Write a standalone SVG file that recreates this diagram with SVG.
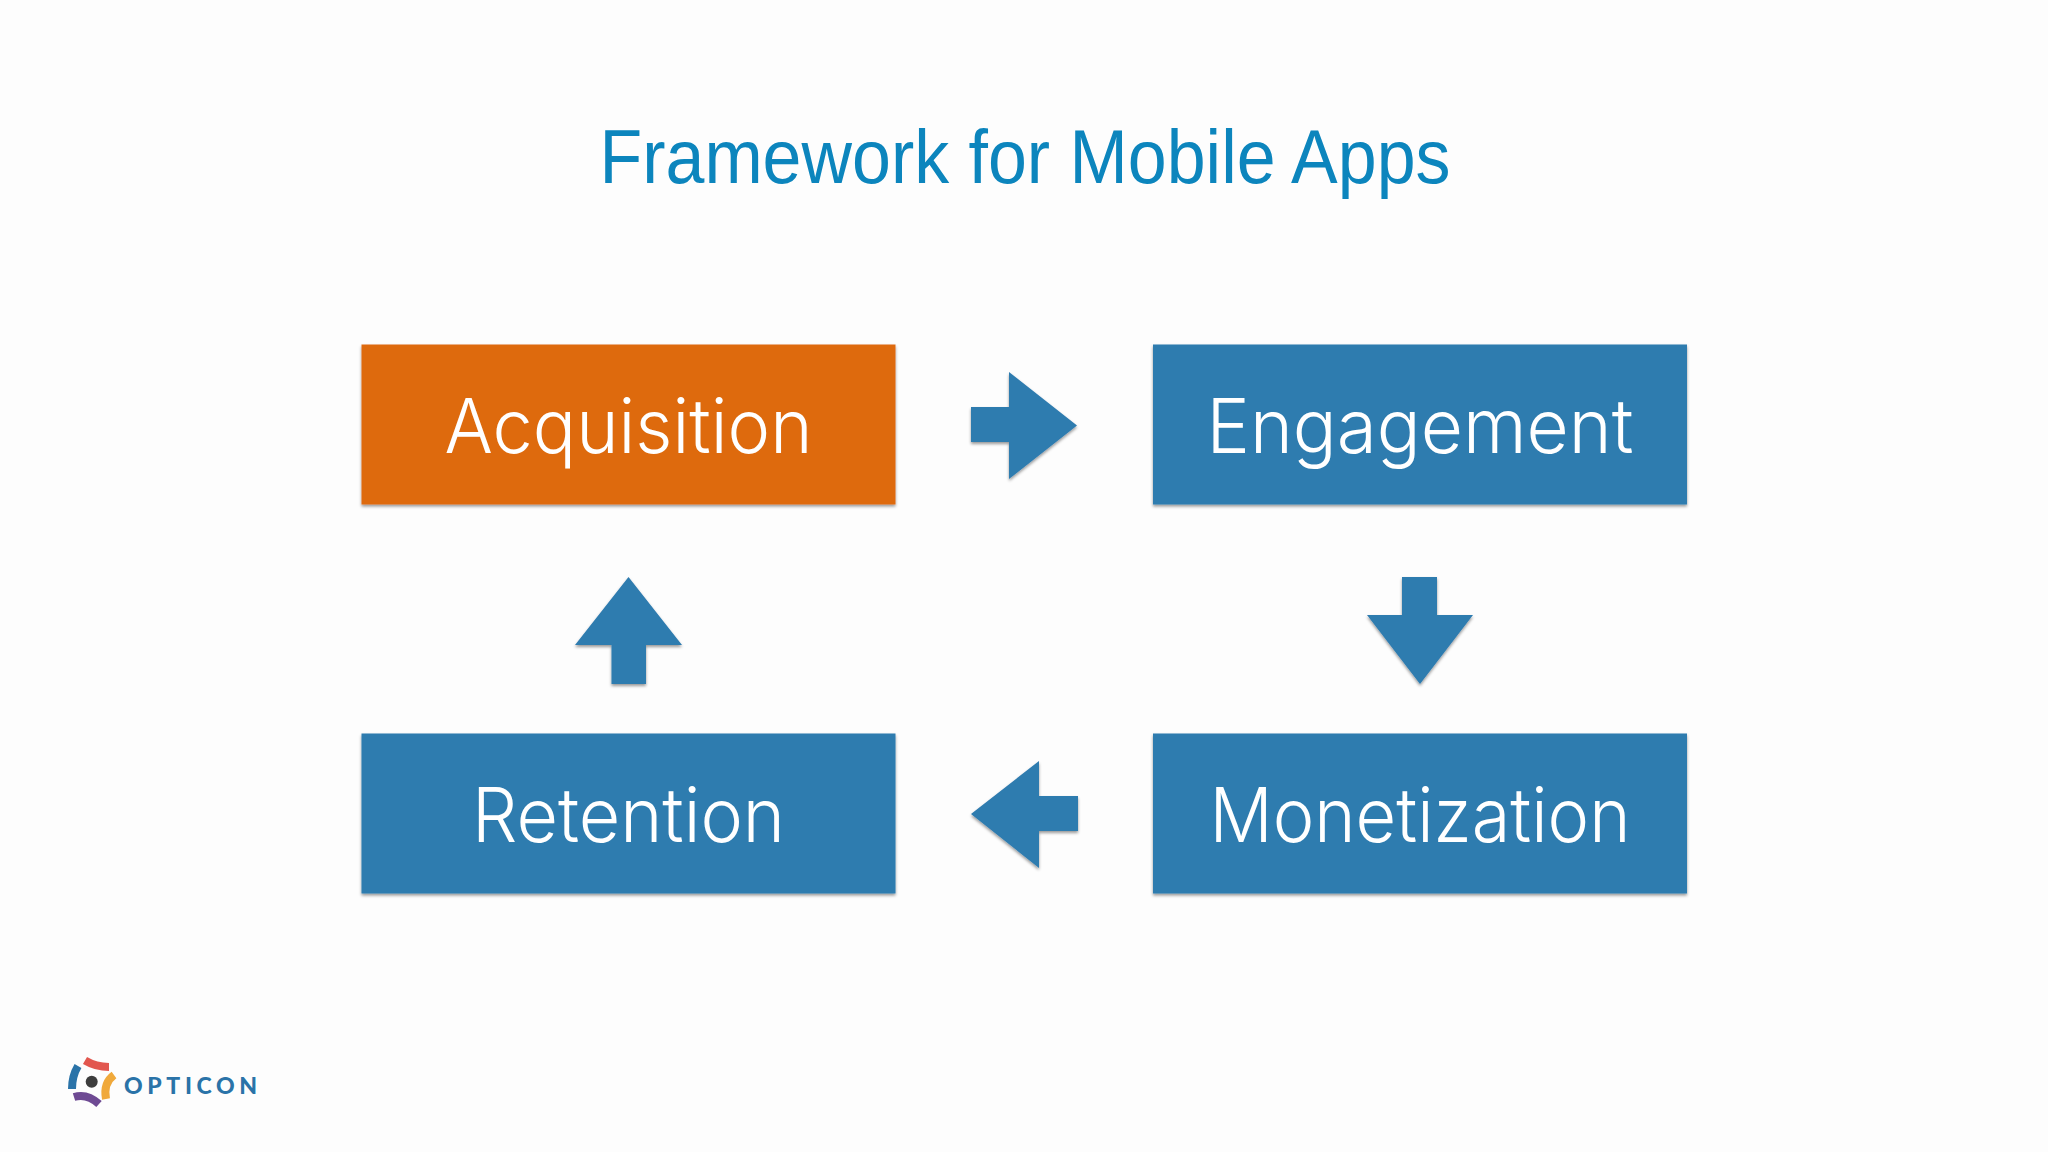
<svg xmlns="http://www.w3.org/2000/svg" width="2048" height="1152" viewBox="0 0 2048 1152">
<defs>
<filter id="sh" x="-5%" y="-5%" width="110%" height="115%"><feDropShadow dx="0" dy="2" stdDeviation="1.500" flood-color="#000" flood-opacity="0.4"/></filter>
</defs>
<style>
.box{filter:url(#sh)}
.blue{fill:#2f7baf}
.orange{fill:#de6a10}
.lbl{font-family:Inter,Roboto,"Liberation Sans",sans-serif;font-weight:300;font-size:75px;fill:#fff;text-anchor:middle}
.arr{fill:#2f7baf;filter:url(#sh)}
.seg{fill:none;stroke-width:8}
</style>
<rect width="2048" height="1152" fill="#fdfdfd"/>
<text id="title" x="1025" y="183" text-anchor="middle" textLength="851" lengthAdjust="spacingAndGlyphs" font-family="'Liberation Sans',Arial,sans-serif" font-size="76" fill="#0c85bd">Framework for Mobile Apps</text>
<g id="acquisition"><rect class="box orange" x="361.500" y="344.500" width="534" height="160"/><text class="lbl" x="628.500" y="453" textLength="368" lengthAdjust="spacingAndGlyphs">Acquisition</text></g>
<g id="engagement"><rect class="box blue" x="1153" y="344.500" width="534" height="160"/><text class="lbl" x="1420" y="453" textLength="427" lengthAdjust="spacingAndGlyphs">Engagement</text></g>
<g id="monetization"><rect class="box blue" x="1153" y="733.500" width="534" height="160"/><text class="lbl" x="1420" y="842" textLength="421" lengthAdjust="spacingAndGlyphs">Monetization</text></g>
<g id="retention"><rect class="box blue" x="361.500" y="733.500" width="534" height="160"/><text class="lbl" x="628.500" y="842" textLength="313" lengthAdjust="spacingAndGlyphs">Retention</text></g>
<g id="connectors">
<polygon class="arr" points="971,407 1009,407 1009,372 1077,425.500 1009,479 1009,442 971,442"/>
<polygon class="arr" points="1402,577 1437,577 1437,615 1473,615 1420,684 1367,615 1402,615"/>
<polygon class="arr" points="1078,796 1039,796 1039,761 971,814 1039,868 1039,831 1078,831"/>
<polygon class="arr" points="611.500,684 646,684 646,645 682,645 628.500,577 575,645 611.500,645"/>
</g>
<g id="logo">
<circle cx="91.700" cy="1081.700" r="6" fill="#3d3d3d"/>
<path class="seg" d="M85 1060.500 Q96 1067 109 1067" stroke="#e2574f"/>
<path class="seg" d="M78 1066 Q72 1076 72 1089" stroke="#2a73a8"/>
<path class="seg" d="M74 1097 Q87 1093 99 1104" stroke="#6e4a93"/>
<path class="seg" d="M114 1075 Q103 1083 106 1099" stroke="#f0a93b"/>
<text x="124" y="1094" font-family="Lato,'Open Sans',sans-serif" font-weight="900" font-size="23" fill="#2a73a8" textLength="133">OPTICON</text>
</g>
</svg>
